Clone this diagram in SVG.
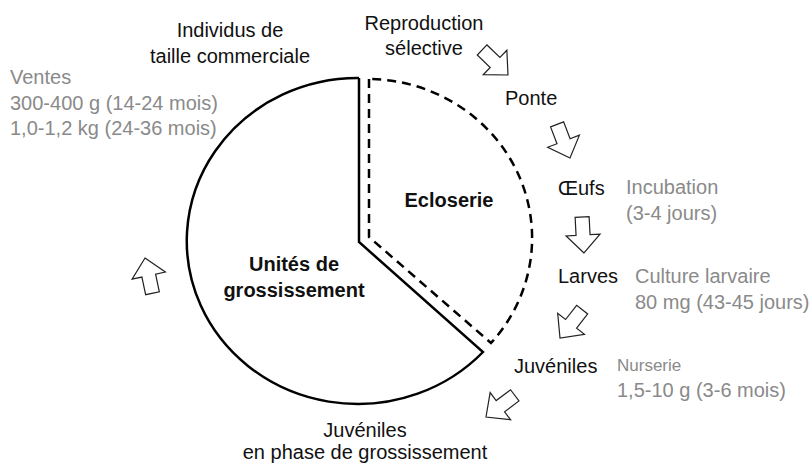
<svg xmlns="http://www.w3.org/2000/svg" width="812" height="464" viewBox="0 0 812 464">
<defs>
<style>
text{font-family:"Liberation Sans",Arial,sans-serif;font-size:20px;fill:#111}
.g{fill:#8a8a8a}
.b{font-weight:bold}
.m{text-anchor:middle}
.arr{fill:#fff;stroke:#222;stroke-width:1.2;stroke-linejoin:miter}
</style>
<path id="ba" d="M0,0 L-17,-18 L-7,-18 L-7,-36 L7,-36 L7,-18 L17,-18 Z"/>
</defs>
<rect width="812" height="464" fill="#fff"/>
<g id="grossissement">
<path d="M359,78 L359,242 L483,352 A171,163 0 1 1 359,78" fill="none" stroke="#000" stroke-width="2.5" stroke-linejoin="miter"/>
<text class="b m" x="294" y="271">Unités de</text>
<text class="b m" x="294" y="297">grossissement</text>
</g>
<g id="ecloserie">
<path d="M369,79 L369,237 L491,343 A165,159 0 0 0 369,79" fill="none" stroke="#000" stroke-width="2.5" stroke-dasharray="9,6"/>
<text class="b m" x="449" y="207">Ecloserie</text>
</g>
<g id="connectors">
<use href="#ba" class="arr" transform="translate(508,75) rotate(-46)"/>
<use href="#ba" class="arr" transform="translate(570,158) rotate(-21)"/>
<use href="#ba" class="arr" transform="translate(584,253) rotate(-3)"/>
<use href="#ba" class="arr" transform="translate(560,338) rotate(38)"/>
<use href="#ba" class="arr" transform="translate(486,417) rotate(53)"/>
<use href="#ba" class="arr" transform="translate(145,258) rotate(168)"/>
</g>
<g id="individus">
<text class="m" x="230" y="37">Individus de</text>
<text class="m" x="230" y="63">taille commerciale</text>
</g>
<g id="ventes">
<text class="g" x="10" y="84">Ventes</text>
<text class="g" x="10" y="110">300-400 g (14-24 mois)</text>
<text class="g" x="10" y="135">1,0-1,2 kg (24-36 mois)</text>
</g>
<g id="reproduction">
<text class="m" x="424" y="30">Reproduction</text>
<text class="m" x="424" y="55">sélective</text>
</g>
<g id="ponte"><text x="505" y="105">Ponte</text></g>
<g id="oeufs"><text x="558" y="195">Œufs</text></g>
<g id="incubation">
<text class="g" x="626" y="194">Incubation</text>
<text class="g" x="626" y="220">(3-4 jours)</text>
</g>
<g id="larves"><text x="558" y="283">Larves</text></g>
<g id="culture">
<text class="g" x="635" y="283">Culture larvaire</text>
<text class="g" x="635" y="309">80 mg (43-45 jours)</text>
</g>
<g id="juveniles"><text x="514" y="373">Juvéniles</text></g>
<g id="nurserie">
<text class="g" x="617" y="371" style="font-size:17px">Nurserie</text>
<text class="g" x="617" y="397">1,5-10 g (3-6 mois)</text>
</g>
<g id="juveniles-grossissement">
<text class="m" x="365" y="437">Juvéniles</text>
<text class="m" x="365" y="459">en phase de grossissement</text>
</g>
</svg>
